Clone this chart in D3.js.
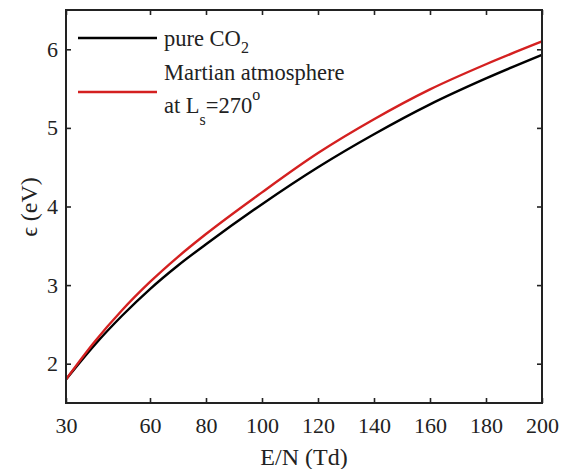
<!DOCTYPE html>
<html><head><meta charset="utf-8">
<script src="https://cdn.jsdelivr.net/npm/d3@7"></script>
<style>body{margin:0;background:#fff}svg{display:block}svg text{font-family:'Liberation Serif',Tinos,'Times New Roman',Times,'DejaVu Serif','Noto Serif',serif;fill:#222}</style>
</head><body><svg id="c" width="570" height="469"></svg>
<script>
const fieldTd = [30, 40, 50, 60, 70, 80, 100, 120, 140, 160, 180, 200];
const pureCO2 = [1.80, 2.23, 2.61, 2.95, 3.25, 3.52, 4.03, 4.50, 4.92, 5.30, 5.63, 5.93];
const martian = [1.80, 2.27, 2.68, 3.04, 3.36, 3.65, 4.18, 4.68, 5.11, 5.49, 5.81, 6.10];
const xTicks = [30, 60, 80, 100, 120, 140, 160, 180, 200];
const yTicks = [2, 3, 4, 5, 6];

const svg = d3.select("#c");
const L = 66, R = 542, T = 10, B = 403;
const x = d3.scaleLinear().domain([30, 200]).range([L, R]);
const y = d3.scaleLinear().domain([1.5, 6.5]).range([B, T]);
const ink = "#222";
const fmt = d3.format("d");

const g = svg.append("g");
g.append("g").attr("transform", `translate(0,${B})`)
  .call(d3.axisBottom(x).tickValues(xTicks).tickFormat(fmt).tickSizeInner(-5).tickSizeOuter(0))
  .call(s => { s.select(".domain").remove(); s.selectAll("text").attr("font-size", 22).attr("y", 30).attr("dy", 0); });
g.append("g").attr("transform", `translate(0,${T})`)
  .call(d3.axisTop(x).tickValues(xTicks).tickSizeInner(-5).tickSizeOuter(0).tickFormat(""))
  .call(s => s.select(".domain").remove());
g.append("g").attr("transform", `translate(${L},0)`)
  .call(d3.axisLeft(y).tickValues(yTicks).tickFormat(fmt).tickSizeInner(-5).tickSizeOuter(0).tickPadding(8))
  .call(s => { s.select(".domain").remove(); s.selectAll("text").attr("font-size", 22).attr("x", -8); });
g.append("g").attr("transform", `translate(${R},0)`)
  .call(d3.axisRight(y).tickValues(yTicks).tickSizeInner(-5).tickSizeOuter(0).tickFormat(""))
  .call(s => s.select(".domain").remove());
g.selectAll("g").attr("font-family", null);
g.selectAll(".tick line").attr("stroke", ink).attr("stroke-width", 1.6);
g.selectAll("text").attr("fill", ink);

const line = d3.line().x((d, i) => x(fieldTd[i])).y(d => y(d)).curve(d3.curveMonotoneX);
svg.append("path").datum(pureCO2).attr("d", line).attr("fill", "none").attr("stroke", "#000").attr("stroke-width", 2.4);
svg.append("path").datum(martian).attr("d", line).attr("fill", "none").attr("stroke", "#d42020").attr("stroke-width", 2.4);

svg.append("rect").attr("x", L).attr("y", T).attr("width", R - L).attr("height", B - T)
  .attr("fill", "none").attr("stroke", ink).attr("stroke-width", 2);

svg.append("line").attr("x1", 78).attr("x2", 157).attr("y1", 38).attr("y2", 38).attr("stroke", "#000").attr("stroke-width", 2.4);
svg.append("line").attr("x1", 78).attr("x2", 157).attr("y1", 92).attr("y2", 92).attr("stroke", "#d42020").attr("stroke-width", 2.4);
const t1 = svg.append("text").attr("x", 164).attr("y", 46).attr("font-size", 22.5);
t1.append("tspan").text("pure CO");
t1.append("tspan").attr("dy", 7).attr("font-size", 16).text("2");
svg.append("text").attr("x", 164).attr("y", 80).attr("font-size", 22.5).text("Martian atmosphere");
const t3 = svg.append("text").attr("x", 164).attr("y", 113).attr("font-size", 22.5);
t3.append("tspan").text("at L");
t3.append("tspan").attr("dy", 12).attr("font-size", 16).text("s");
t3.append("tspan").attr("dy", -12).text("=270");
t3.append("tspan").attr("dy", -13).attr("font-size", 16).text("o");

svg.append("text").attr("x", 304).attr("y", 465).attr("text-anchor", "middle").attr("font-size", 24).text("E/N (Td)");
svg.append("text").attr("transform", "translate(37,207) rotate(-90)").attr("text-anchor", "middle").attr("font-size", 24).text("ϵ (eV)");
</script></body></html>
